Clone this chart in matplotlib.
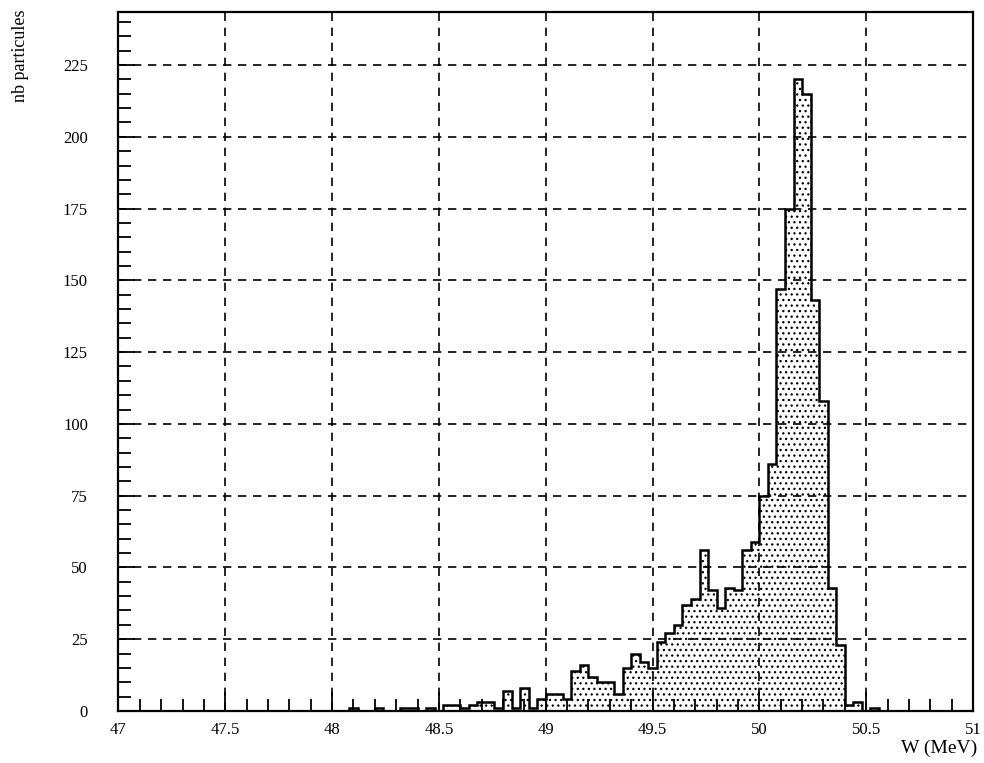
import numpy as np
import matplotlib
matplotlib.use("Agg")
import matplotlib.pyplot as plt
from matplotlib.ticker import MultipleLocator, FixedLocator

plt.rcParams["font.family"] = ["Liberation Serif", "DejaVu Serif"]
plt.rcParams["hatch.color"] = "black"
plt.rcParams["hatch.linewidth"] = 0.9

# Energy histogram: 100 bins of 0.04 MeV between 47 and 51 MeV
bin_lo = 47.0
bin_hi = 51.0
counts = [
    0, 0, 0, 0, 0, 0, 0, 0, 0, 0,          # 47.00 - 47.36
    0, 0, 0, 0, 0, 0, 0, 0, 0, 0,          # 47.40 - 47.76
    0, 0, 0, 0, 0, 0, 0, 1, 0, 0,          # 47.80 - 48.16
    1, 0, 0, 1, 1, 0, 1, 0, 2, 2,          # 48.20 - 48.56
    1, 2, 3, 3, 1, 7, 1, 8, 1, 4,          # 48.60 - 48.96
    6, 6, 4, 14, 16, 12, 10, 10, 6, 15,    # 49.00 - 49.36
    20, 17, 15, 24, 27, 30, 37, 39, 56, 42,  # 49.40 - 49.76
    36, 43, 42, 56, 59, 75, 86, 147, 175, 220,  # 49.80 - 50.16
    215, 143, 108, 43, 23, 2, 3, 0, 1, 0,  # 50.20 - 50.56
    0, 0, 0, 0, 0, 0, 0, 0, 0, 0,          # 50.60 - 50.96
]
x_ticks = [47, 47.5, 48, 48.5, 49, 49.5, 50, 50.5, 51]
x_tick_labels = ["47", "47.5", "48", "48.5", "49", "49.5", "50", "50.5", "51"]
y_ticks = [0, 25, 50, 75, 100, 125, 150, 175, 200, 225]
y_tick_labels = [str(v) for v in y_ticks]

edges = np.linspace(bin_lo, bin_hi, len(counts) + 1)

fig = plt.figure(figsize=(9.84, 7.63), dpi=100)
ax = fig.add_axes([0.1204, 0.0682, 0.8684, 0.9161])

# dotted fill, then the black outline
ax.stairs(counts, edges, fill=True, facecolor="white", edgecolor="black",
          hatch="...", linewidth=0, zorder=1)
ax.stairs(counts, edges, fill=False, color="black", linewidth=1.8, zorder=3)

ax.set_xlim(bin_lo, bin_hi)
ax.set_ylim(0, 243.5)

ax.xaxis.set_major_locator(FixedLocator(x_ticks))
ax.set_xticklabels(x_tick_labels)
ax.xaxis.set_minor_locator(MultipleLocator(0.1))
ax.yaxis.set_major_locator(FixedLocator(y_ticks))
ax.set_yticklabels(y_tick_labels)
ax.yaxis.set_minor_locator(MultipleLocator(5))

ax.tick_params(axis="both", which="both", direction="in", color="black",
               width=1.3, labelsize=12, top=False, right=False)
ax.tick_params(axis="x", which="major", length=14, pad=8)
ax.tick_params(axis="x", which="minor", length=9)
ax.tick_params(axis="y", which="major", length=12, pad=22)
ax.tick_params(axis="y", which="minor", length=9)

ax.grid(True, which="major", color="black", linestyle=(0, (5, 4)),
        linewidth=1.2, zorder=2)
ax.set_axisbelow(False)

for sp in ax.spines.values():
    sp.set_linewidth(1.6)
    sp.set_color("black")

fig.text(0.021, 0.987, "nb particules", rotation=90, ha="center", va="top",
         fontsize=13)
fig.text(0.993, 1 - 748 / 763, "W (MeV)", ha="right", va="center",
         fontsize=14)

fig.savefig("out.png", dpi=100)
